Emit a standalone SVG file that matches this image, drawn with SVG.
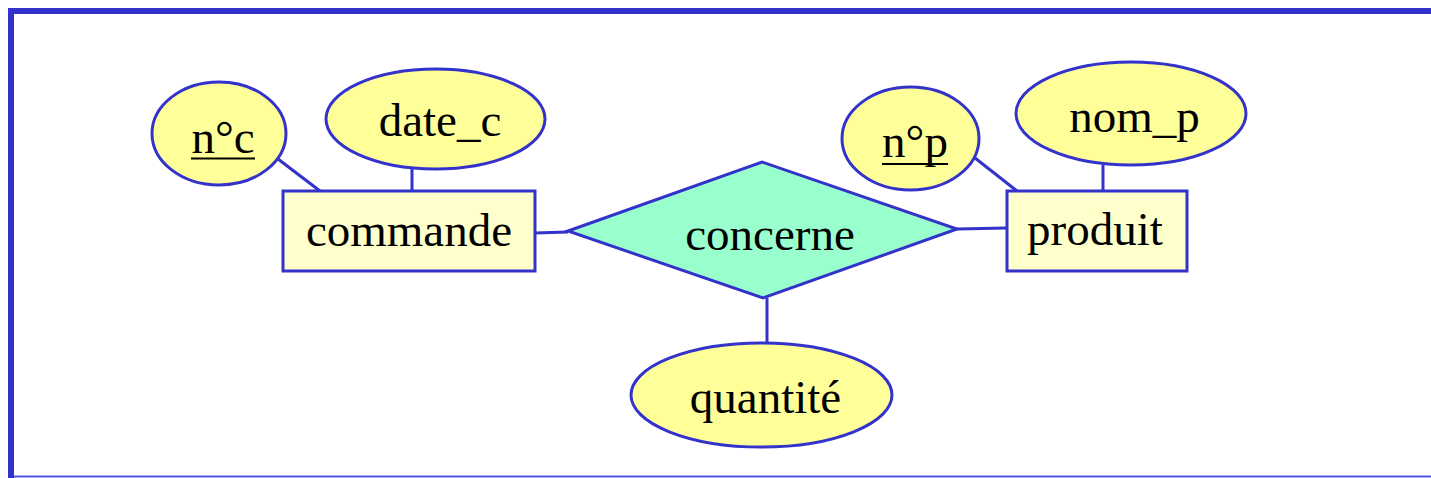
<svg xmlns="http://www.w3.org/2000/svg" width="1431" height="478" viewBox="0 0 1431 478">
<style>
.attr{fill:#FFFF99;stroke:#3333CC;stroke-width:3}
.ent{fill:#FFFFCC;stroke:#3333CC;stroke-width:3}
.rel{fill:#99FFCC;stroke:#3333CC;stroke-width:3}
.conn line{stroke:#3333CC;stroke-width:3}
.ul{stroke:#000;stroke-width:2}
text{font-family:"Liberation Serif","Times New Roman",serif;font-size:47px;fill:#000;text-anchor:middle}
</style>
<rect x="0" y="0" width="1431" height="478" fill="#FFFFFF"/>
<g id="frame">
<rect x="8" y="8" width="1423" height="6" fill="#3333CC"/>
<rect x="8" y="8" width="6" height="470" fill="#3333CC"/>
<rect x="14" y="475.5" width="1417" height="2" fill="#5555DD"/>
</g>
<g id="connectors" class="conn">
<line x1="278" y1="159" x2="320" y2="191"/>
<line x1="412" y1="169" x2="412" y2="191"/>
<line x1="535" y1="233" x2="568" y2="232"/>
<line x1="957" y1="229" x2="1007" y2="228"/>
<line x1="975" y1="158" x2="1017" y2="191"/>
<line x1="1103" y1="165" x2="1103" y2="191"/>
<line x1="767" y1="298" x2="767" y2="343"/>
</g>
<g id="n_c"><ellipse class="attr" cx="219" cy="133.5" rx="67" ry="51.5"/><text x="223" y="153">n°c</text><line class="ul" x1="191" y1="158.5" x2="255" y2="158.5"/></g>
<g id="date_c"><ellipse class="attr" cx="435.5" cy="119" rx="109.5" ry="50"/><text x="440" y="136">date_c</text></g>
<g id="commande"><rect class="ent" x="283" y="191" width="252" height="80"/><text x="409" y="246">commande</text></g>
<g id="concerne"><polygon class="rel" points="568,231 762,162 957,229 763,298"/><text x="770" y="250">concerne</text></g>
<g id="produit"><rect class="ent" x="1007" y="191" width="180" height="80"/><text x="1095" y="245">produit</text></g>
<g id="n_p"><ellipse class="attr" cx="910.5" cy="138.5" rx="68.5" ry="51.5"/><text x="915" y="157">n°p</text><line class="ul" x1="882" y1="164" x2="948" y2="164"/></g>
<g id="nom_p"><ellipse class="attr" cx="1131" cy="113.5" rx="115" ry="51.5"/><text x="1134.5" y="132">nom_p</text></g>
<g id="quantite"><ellipse class="attr" cx="761.5" cy="395" rx="130.5" ry="52"/><text x="765.5" y="413">quantité</text></g>
</svg>
